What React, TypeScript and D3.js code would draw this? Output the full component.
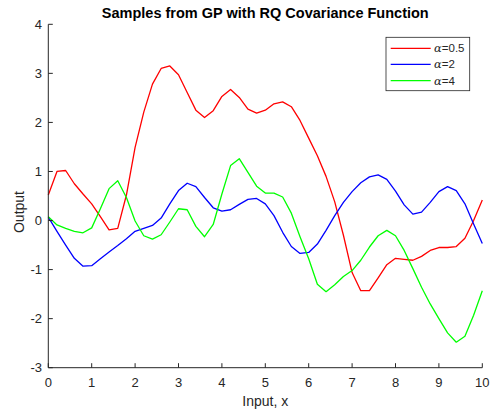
import React from 'react';
import * as d3 from 'd3';

// input locations: 51 evenly spaced samples on [0, 10]
const inputs = d3.range(51).map(i => i / 5);

const alphaHalf = [
  0.52, 1.00, 1.02, 0.75, 0.54, 0.34, 0.08, -0.19, -0.16, 0.52,
  1.49, 2.21, 2.78, 3.10, 3.15, 2.97, 2.61, 2.25, 2.10, 2.24,
  2.53, 2.67, 2.51, 2.27, 2.19, 2.25, 2.38, 2.42, 2.32, 2.04,
  1.68, 1.32, 0.90, 0.38, -0.30, -1.06, -1.43, -1.43, -1.17, -0.90,
  -0.77, -0.79, -0.81, -0.73, -0.61, -0.55, -0.55, -0.53, -0.36, 0.0,
  0.42,
];

const alphaTwo = [
  0.07, -0.22, -0.50, -0.77, -0.93, -0.92, -0.78, -0.64, -0.51, -0.37,
  -0.22, -0.16, -0.10, 0.05, 0.34, 0.61, 0.76, 0.69, 0.47, 0.26,
  0.19, 0.22, 0.33, 0.43, 0.45, 0.34, 0.10, -0.24, -0.53, -0.67,
  -0.65, -0.48, -0.20, 0.10, 0.37, 0.59, 0.77, 0.89, 0.93, 0.84,
  0.60, 0.32, 0.13, 0.17, 0.37, 0.59, 0.69, 0.61, 0.34, -0.07,
  -0.47,
];

const alphaFour = [
  0.08, -0.09, -0.16, -0.22, -0.25, -0.15, 0.24, 0.65, 0.81, 0.47,
  -0.01, -0.31, -0.38, -0.29, -0.03, 0.24, 0.22, -0.12, -0.33, -0.08,
  0.54, 1.12, 1.26, 0.98, 0.70, 0.56, 0.56, 0.48, 0.15, -0.33,
  -0.78, -1.30, -1.45, -1.31, -1.14, -1.02, -0.81, -0.54, -0.31, -0.20,
  -0.31, -0.61, -0.98, -1.36, -1.70, -2.00, -2.29, -2.48, -2.36, -1.93,
  -1.43,
];

const seriesNames = ['0.5', '2', '4'];
const seriesColors = ['#ff0000', '#0000ff', '#00ff00'];
const xTicks = [0, 1, 2, 3, 4, 5, 6, 7, 8, 9, 10];
const yTicks = [-3, -2, -1, 0, 1, 2, 3, 4];

const W = 495;
const H = 414;
const left = 48.3;
const right = 482.3;
const top = 24.3;
const bottom = 367.7;
const ink = '#262626';
const font = '"Liberation Sans", Arial, Helvetica, sans-serif';

const App: React.FC = () => {
  const x = d3.scaleLinear().domain([0, 10]).range([left, right]);
  const y = d3.scaleLinear().domain([-3, 4]).range([bottom, top]);

  const line = d3.line<number>()
    .x((d, i) => x(inputs[i]))
    .y(d => y(d));

  const allSeries = [alphaHalf, alphaTwo, alphaFour];

  const legX = 386;
  const legY = 37.3;
  const rowY = [48.3, 64.3, 80.7];

  return (
    <svg width={W} height={H} style={{ position: 'absolute', left: 0, top: 0, background: '#fff' }} fontFamily={font}>
      <rect x={0} y={0} width={W} height={H} fill="#fff" />

      {allSeries.map((s, k) => (
        <path key={k} d={line(s) || ''} fill="none" stroke={seriesColors[k]} strokeWidth={1.3} strokeLinejoin="round" />
      ))}

      {/* axes */}
      <line x1={left} x2={left} y1={top} y2={bottom} stroke={ink} strokeWidth={1} />
      <line x1={left} x2={right} y1={bottom} y2={bottom} stroke={ink} strokeWidth={1} />

      {xTicks.map(t => (
        <g key={'x' + t}>
          <line x1={x(t)} x2={x(t)} y1={bottom} y2={bottom - 4.5} stroke={ink} />
          <text x={x(t)} y={387} textAnchor="middle" fontSize={13} fill={ink}>{t}</text>
        </g>
      ))}

      {yTicks.map(t => (
        <g key={'y' + t}>
          <line x1={left} x2={left + 4.5} y1={y(t)} y2={y(t)} stroke={ink} />
          <text x={42} y={y(t) + 4.5} textAnchor="end" fontSize={13} fill={ink}>{t}</text>
        </g>
      ))}

      <text x={(left + right) / 2} y={406} textAnchor="middle" fontSize={14} fill={ink}>Input, x</text>
      <text transform={`translate(24, 212) rotate(-90)`} textAnchor="middle" fontSize={14} fill={ink}>Output</text>
      <text x={(left + right) / 2} y={18.3} textAnchor="middle" fontSize={14.5} fontWeight="bold" fill="#000">
        Samples from GP with RQ Covariance Function
      </text>

      {/* legend */}
      <rect x={legX} y={legY} width={83.7} height={53.4} fill="#fff" stroke={ink} strokeWidth={0.8} />
      {seriesNames.map((n, k) => (
        <g key={'l' + n}>
          <line x1={390.7} x2={430.7} y1={rowY[k]} y2={rowY[k]} stroke={seriesColors[k]} strokeWidth={1.3} />
          <text x={434} y={rowY[k] + 4} fontSize={11.5} fill={ink}>
            <tspan fontFamily='"DejaVu Serif", "Liberation Serif", serif' fontStyle="italic">α</tspan>
            <tspan>={n}</tspan>
          </text>
        </g>
      ))}
    </svg>
  );
};

export default App;
